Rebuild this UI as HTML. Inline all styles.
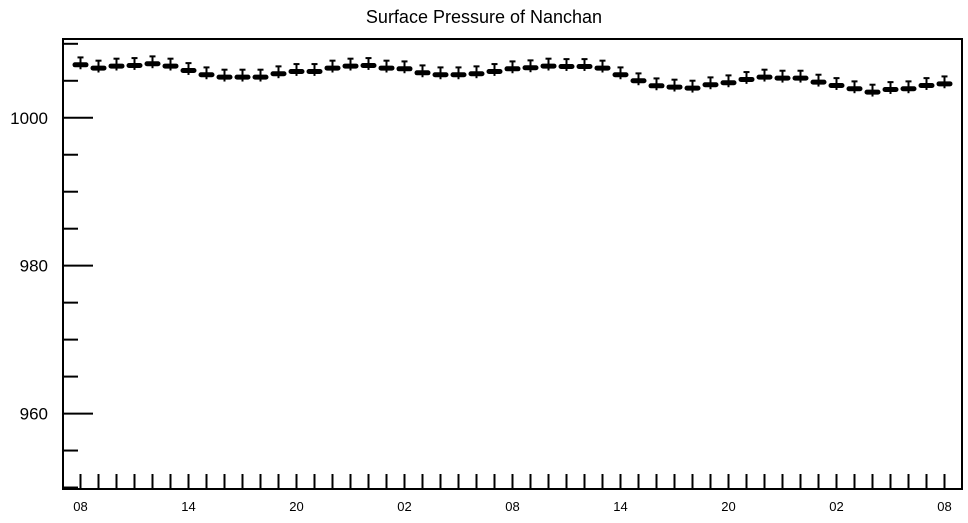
<!DOCTYPE html>
<html><head><meta charset="utf-8"><style>
body{margin:0;background:#fff;}
svg text{font-family:"Liberation Sans",Arial,sans-serif;fill:#000;}
</style></head><body>
<svg id="chart" width="968" height="518" viewBox="0 0 968 518" xmlns="http://www.w3.org/2000/svg">
<text x="484" y="23" font-size="18" text-anchor="middle">Surface Pressure of Nanchan</text>
<rect x="63" y="39" width="899" height="450" fill="none" stroke="#000" stroke-width="2"/>
<g id="yaxis"></g>
<g id="xaxis"></g>
<g id="series"></g>
</svg>
<script>
const pressure = [1007.16,1006.72,1006.99,1007.07,1007.30,1006.99,1006.39,1005.81,1005.50,1005.50,1005.50,1005.95,1006.26,1006.26,1006.72,1006.99,1007.07,1006.72,1006.62,1006.08,1005.81,1005.81,1005.95,1006.26,1006.62,1006.76,1006.99,1006.93,1006.93,1006.72,1005.81,1005.00,1004.32,1004.15,1004.01,1004.46,1004.73,1005.18,1005.50,1005.36,1005.36,1004.82,1004.36,1003.92,1003.47,1003.82,1003.92,1004.36,1004.59];
const errUp = 1.0;
const errDown = 0.6;
const yTickLabels = [960,980,1000];
const xTickLabels = ["08","14","20","02","08","14","20","02","08"];
const yMin = 949.8, yMax = 1010.65;
const plotTop = 39, plotBottom = 489;
const NS = "http://www.w3.org/2000/svg";
function yScale(v){return plotBottom - (v - yMin)/(yMax - yMin)*(plotBottom - plotTop);}
function xScale(i){return 80.5 + i*18;}
function mk(tag, attrs, parent){const e=document.createElementNS(NS,tag);for(const k in attrs)e.setAttribute(k,attrs[k]);parent.appendChild(e);return e;}
const ya=document.getElementById('yaxis'), xa=document.getElementById('xaxis'), sg=document.getElementById('series');
for(let v=950; v<=1010; v+=5){
  const y=yScale(v); const major = v%20===0;
  const t=mk('line',{x1:63,x2:major?93:78,y1:y,y2:y,stroke:'#000','stroke-width':2},ya);
  
  
}
yTickLabels.forEach(v=>{
  const t=mk('text',{x:48,y:yScale(v)+6,'font-size':17,'text-anchor':'end'},ya);
  t.textContent=v;
  
  
});
for(let i=0;i<pressure.length;i++){
  const x=xScale(i);
  const t=mk('line',{x1:x,x2:x,y1:474,y2:489,stroke:'#000','stroke-width':2},xa);
  
  
}
xTickLabels.forEach((s,k)=>{
  const t=mk('text',{x:xScale(k*6),y:511,'font-size':13,'text-anchor':'middle'},xa);
  t.textContent=s;
  
  
});
pressure.forEach((v,i)=>{
  const x=xScale(i), y=yScale(v), yt=yScale(v+errUp), yb=yScale(v-errDown);
  const g=mk('g',{},sg);
  
  
  mk('line',{x1:x,x2:x,y1:yt,y2:yb,stroke:'#000','stroke-width':2},g);
  mk('line',{x1:x-3,x2:x+3,y1:yt,y2:yt,stroke:'#000','stroke-width':2},g);
  mk('rect',{x:x-8,y:y-2.5,width:16,height:5,rx:2.5,fill:'#000'},g);
});
</script>
</body></html>
